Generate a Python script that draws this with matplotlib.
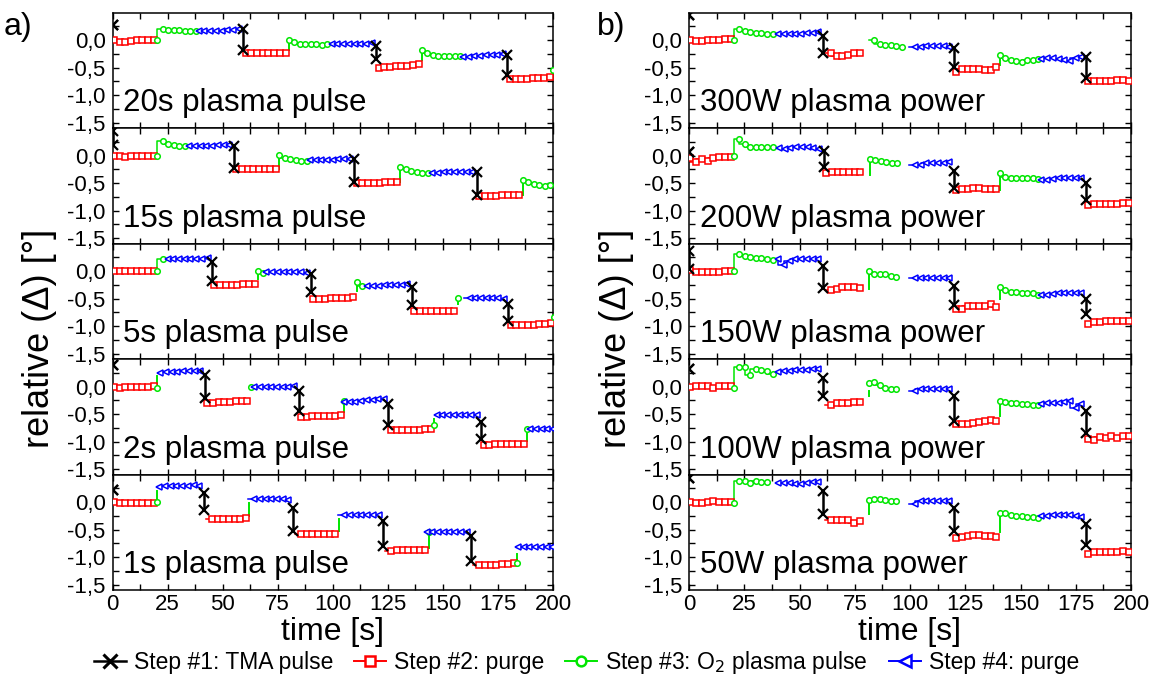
import numpy as np
import matplotlib
matplotlib.use("Agg")
import matplotlib.pyplot as plt
from matplotlib.lines import Line2D
from matplotlib.ticker import FixedLocator, MultipleLocator, FuncFormatter
from matplotlib import font_manager

FONT = "Liberation Sans"
_installed = {f.name for f in font_manager.fontManager.ttflist}
NARROW = "Liberation Sans Narrow" if "Liberation Sans Narrow" in _installed else FONT
plt.rcParams["font.family"] = FONT

C_TMA = "#000000"
C_PURGE_A = "#ff0000"
C_PLASMA = "#00e600"
C_PURGE_B = "#0000ff"

# ---------------------------------------------------------------- data
# Each panel: TMA pulse times [s] and (start, end) of the jump in relative Delta,
# then per ALD cycle the sampled values of purge #1, the plasma rise line,
# the plasma pulse samples and purge #2 (None = no sample recorded).

# a) plasma pulse length series
P20_TMA_T = [0.0, 59.3, 119.7, 179.3]
P20_TMA_Y = [(0.27, 0.27), (0.21, -0.17), (-0.10, -0.35), (-0.26, -0.64)]
P20_PURGE_A = [[0.01, -0.03, -0.03, -0.02, 0.0, 0.0, 0.0, 0.01],
               [-0.23, -0.23, -0.23, -0.23, -0.23, -0.23, -0.23, -0.23],
               [-0.50, -0.48, -0.48, -0.47, -0.47, -0.46, -0.45, -0.44],
               [-0.71, -0.70, -0.70, -0.70, -0.68, -0.68, -0.68, -0.67]]
P20_RISE = [None, (-0.17, 0.01), (-0.36, -0.17), (-0.64, -0.55)]
P20_PLASMA = [[0.01, 0.21, 0.19, 0.19, 0.18, 0.17, 0.16, 0.16],
              [0.01, -0.04, -0.06, -0.07, -0.07, -0.07, -0.08, -0.06],
              [-0.17, -0.23, -0.26, -0.28, -0.28, -0.28, -0.28, -0.29],
              [-0.55]]
P20_PURGE_B = [[0.16, 0.16, 0.16, 0.17, 0.17, 0.18, 0.19, 0.21],
               [-0.06, -0.07, -0.07, -0.06, -0.06, -0.07, -0.07, -0.05],
               [-0.30, -0.30, -0.28, -0.28, -0.27, -0.27, -0.26, -0.25]]

P15_TMA_T = [0.0, 55.0, 109.8, 165.4]
P15_TMA_Y = [(0.45, 0.20), (0.18, -0.23), (-0.06, -0.48), (-0.30, -0.72)]
P15_PURGE_A = [[-0.01, -0.01, -0.02, -0.01, -0.01, -0.01, -0.01, -0.01],
               [-0.25, -0.25, -0.25, -0.25, -0.25, -0.25, -0.25, -0.25],
               [-0.50, -0.50, -0.50, -0.49, -0.49, -0.48, -0.48, -0.47],
               [-0.74, -0.74, -0.73, -0.73, -0.72, -0.72, -0.72, -0.72]]
P15_RISE = [None, (-0.24, 0.02), (-0.48, -0.21), (-0.71, -0.45)]
P15_PLASMA = [[0.0, 0.26, 0.21, 0.20, 0.18, 0.18],
              [0.02, -0.04, -0.06, -0.08, -0.09, -0.09],
              [-0.21, -0.25, -0.28, -0.30, -0.31, -0.31],
              [-0.45, -0.48, -0.52, -0.54, -0.55, -0.54]]
P15_PURGE_B = [[0.17, 0.17, 0.18, 0.18, 0.18, 0.19, 0.19, 0.19],
               [-0.08, -0.08, -0.08, -0.07, -0.07, -0.06, -0.06, -0.06],
               [-0.31, -0.31, -0.30, -0.30, -0.30, -0.30, -0.29, -0.29]]

P5_TMA_T = [0.0, 45.2, 90.1, 135.9, 179.7]
P5_TMA_Y = [None, (0.16, -0.17), (-0.05, -0.38), (-0.29, -0.62), (-0.59, -0.90)]
P5_PURGE_A = [[0.01, 0.0, 0.0, 0.01, 0.0, 0.0, 0.01, 0.01],
              [-0.26, -0.26, -0.26, -0.25, -0.25, -0.24, -0.24, -0.23],
              [-0.50, -0.50, -0.50, -0.49, -0.49, -0.49, -0.49, -0.47],
              [-0.73, -0.73, -0.73, -0.73, -0.73, -0.72, -0.72, -0.72],
              [-0.98, -0.98, -0.98, -0.98, -0.97, -0.96, -0.96, -0.95]]
P5_RISE = [None, (-0.14, 0.01), (-0.36, -0.20), (-0.60, -0.49), (-0.95, -0.83)]
P5_PLASMA = [[0.0, 0.23], [0.01, -0.03], [-0.20, -0.27], [-0.49], [-0.83]]
P5_PURGE_B = [[0.22, 0.22, 0.22, 0.22, 0.22, 0.22, 0.23, 0.24],
              [-0.01, -0.01, -0.01, -0.01, -0.01, -0.01, -0.02, -0.03],
              [-0.27, -0.27, -0.27, -0.26, -0.26, -0.25, -0.25, -0.24],
              [None, -0.49, -0.49, -0.49, -0.49, -0.49, -0.49, -0.50]]

P2_TMA_T = [0.0, 41.9, 84.5, 125.3, 167.4]
P2_TMA_Y = [(0.40, 0.40), (0.22, -0.20), (-0.08, -0.44), (-0.32, -0.70), (-0.64, -0.95)]
P2_PURGE_A = [[0.0, -0.02, 0.0, 0.0, 0.0, 0.0, 0.0, 0.01],
              [-0.29, -0.29, -0.28, -0.28, -0.28, -0.26, -0.26, -0.26],
              [-0.55, -0.55, -0.54, -0.54, -0.53, -0.53, -0.53, -0.52],
              [-0.79, -0.79, -0.79, -0.78, -0.78, -0.78, -0.77, -0.77],
              [-1.06, -1.06, -1.05, -1.05, -1.05, -1.05, -1.05, -1.05]]
P2_RISE = [(-0.02, 0.20), None, (-0.46, -0.26), (-0.69, -0.58), (-0.98, -0.77)]
P2_PLASMA = [[-0.02], [0.0], [-0.26], [-0.69], [-0.77]]
P2_PURGE_B = [[0.25, 0.27, 0.27, 0.27, 0.28, 0.28, 0.28, 0.28],
              [0.0, 0.0, 0.0, 0.0, 0.0, 0.0, 0.0, 0.01],
              [-0.27, -0.27, -0.27, -0.26, -0.25, -0.24, -0.23, -0.22],
              [-0.52, -0.52, -0.51, -0.51, -0.51, -0.51, -0.51, -0.51],
              [-0.77, -0.77, -0.77, -0.77, -0.77, -0.77, -0.77, -0.77]]

P1_TMA_T = [0.0, 41.4, 81.9, 122.8, 162.8]
P1_TMA_Y = [(0.23, 0.23), (0.17, -0.15), (-0.10, -0.52), (-0.34, -0.80), (-0.61, -1.07)]
P1_PURGE_A = [[0.0, -0.02, -0.02, -0.02, -0.02, -0.02, -0.02, -0.01],
              [None, -0.31, -0.31, -0.31, -0.31, -0.30, -0.30, -0.28],
              [None, -0.58, -0.57, -0.57, -0.57, -0.57, -0.57, -0.57],
              [None, -0.89, -0.87, -0.87, -0.87, -0.87, -0.87, -0.86],
              [None, -1.14, -1.14, -1.14, -1.14, -1.13, -1.13, -1.11]]
P1_RISE = [(0.0, 0.20), (-0.25, -0.01), (-0.52, -0.30), (-0.84, -0.54), (-1.11, -0.95)]
P1_PLASMA = [[0.0], [], [], [-0.54], [-1.11]]
P1_PURGE_B = [[0.28, 0.29, 0.29, 0.30, 0.30, 0.30, 0.31, 0.29],
              [None, 0.05, 0.05, 0.05, 0.05, 0.05, 0.05, 0.04],
              [None, -0.24, -0.24, -0.24, -0.24, -0.24, -0.24, -0.24],
              [-0.54, -0.54, -0.54, -0.54, -0.54, -0.54, -0.54, -0.54],
              [-0.81, -0.81, -0.81, -0.81, -0.81, -0.81, -0.81, -0.81]]

# b) plasma power series (20 s plasma pulse)
W300_TMA_T = [0.0, 60.5, 119.8, 179.6]
W300_TMA_Y = [(0.45, 0.45), (0.08, -0.23), (-0.15, -0.49), (-0.30, -0.69)]
W300_PURGE_A = [[0.0, -0.01, -0.01, 0.01, 0.01, 0.01, 0.03, 0.03],
                [None, -0.24, -0.29, -0.29, -0.26, -0.24, -0.23, None],
                [-0.57, -0.53, -0.53, -0.53, -0.53, -0.54, -0.54, -0.49],
                [-0.75, -0.75, -0.75, -0.75, -0.75, -0.73, -0.73, -0.75]]
W300_RISE = [None, None, (-0.45, -0.26), None]
W300_PLASMA = [[0.0, 0.20, 0.17, 0.15, 0.13, 0.13, 0.12, 0.12],
               [None, 0.01, -0.06, -0.08, -0.09, -0.11, -0.12],
               [-0.26, -0.33, -0.36, -0.38, -0.39, -0.36, -0.36, -0.35]]
W300_PURGE_B = [[0.11, 0.11, 0.12, 0.12, 0.12, 0.13, 0.13, 0.15],
                [None, -0.12, -0.12, -0.11, -0.11, -0.11, -0.11, -0.12],
                [-0.35, -0.33, -0.33, -0.35, -0.36, -0.37, -0.33, -0.30]]

W200_TMA_T = [0.0, 60.9, 119.8, 179.6]
W200_TMA_Y = [(0.06, 0.06), (0.08, -0.20), (-0.28, -0.59), (-0.50, -0.80)]
W200_PURGE_A = [[-0.05, -0.11, -0.06, -0.09, -0.04, -0.02, -0.02, -0.02],
                [-0.32, -0.29, -0.29, -0.29, -0.29, -0.29, -0.29, None],
                [-0.62, -0.61, -0.61, -0.59, -0.59, -0.60, -0.60, -0.60],
                [-0.89, -0.88, -0.88, -0.88, -0.88, -0.88, -0.86, -0.86]]
W200_RISE = [None, (-0.35, -0.06), (-0.62, -0.32), None]
W200_PLASMA = [[0.0, 0.31, 0.22, 0.16, 0.16, 0.16, 0.16, 0.16],
               [-0.06, -0.08, -0.09, -0.11, -0.13, -0.13],
               [-0.32, -0.38, -0.40, -0.40, -0.40, -0.40, -0.40, -0.42]]
W200_PURGE_B = [[0.14, 0.13, 0.14, 0.16, 0.16, 0.16, 0.14, 0.12],
                [None, -0.17, -0.16, -0.14, -0.14, -0.13, -0.13, -0.11],
                [-0.44, -0.44, -0.42, -0.41, -0.41, -0.41, -0.41, -0.40]]

W150_TMA_T = [0.0, 60.5, 119.8, 179.6]
W150_TMA_Y = [(0.37, 0.04), (0.09, -0.31), (-0.27, -0.62), (-0.51, -0.77)]
W150_PURGE_A = [[0.03, -0.02, -0.02, -0.01, -0.01, -0.01, 0.0, 0.0],
                [None, -0.35, -0.32, -0.29, -0.29, -0.29, -0.31, None],
                [-0.68, -0.68, -0.63, -0.63, -0.63, -0.63, -0.60, -0.65],
                [-0.96, -0.93, -0.93, -0.90, -0.90, -0.90, -0.90, -0.90]]
W150_RISE = [None, (-0.32, 0.01), (-0.51, -0.29), None]
W150_PLASMA = [[0.0, 0.31, 0.27, 0.25, 0.24, 0.24, 0.22, 0.21],
               [0.01, -0.05, -0.05, -0.05, -0.09, -0.11],
               [-0.29, -0.34, -0.37, -0.38, -0.39, -0.39, -0.40, -0.43]]
W150_PURGE_B = [[0.22, 0.11, 0.19, 0.22, 0.22, 0.23, 0.23, 0.23],
                [None, -0.12, -0.13, -0.13, -0.13, -0.13, -0.13, -0.12],
                [-0.44, -0.43, -0.41, -0.40, -0.40, -0.40, -0.40, -0.40]]

W100_TMA_T = [0.0, 60.5, 119.8, 179.6]
W100_TMA_Y = [(0.32, 0.32), (0.16, -0.16), (-0.17, -0.63), (-0.44, -0.84)]
W100_PURGE_A = [[0.0, 0.01, 0.01, 0.02, -0.02, 0.01, 0.02, 0.01],
                [None, -0.34, -0.30, -0.30, -0.30, -0.28, -0.28, None],
                [-0.68, -0.68, -0.68, -0.66, -0.65, -0.62, -0.60, -0.62],
                [-0.95, -0.96, -0.92, -0.93, -0.90, -0.93, -0.89, -0.89]]
W100_RISE = [None, (-0.17, -0.08), (-0.53, -0.26), None]
W100_PLASMA = [[-0.02, 0.36, 0.36, 0.22, 0.32, 0.30, 0.28, 0.24],
               [0.06, 0.08, 0.04, -0.02, -0.04, -0.04],
               [-0.26, -0.28, -0.29, -0.29, -0.31, -0.32, -0.33, -0.33]]
W100_PURGE_B = [[0.26, 0.28, 0.29, 0.30, 0.30, 0.31, 0.32, 0.32],
                [None, -0.08, -0.04, -0.04, -0.04, -0.04, -0.04, -0.04],
                [-0.32, -0.30, -0.29, -0.29, -0.28, -0.26, -0.38, -0.32]]

W50_TMA_T = [0.0, 60.5, 119.8, 179.6]
W50_TMA_Y = [(0.44, 0.44), (0.20, -0.22), (-0.10, -0.52), (-0.39, -0.78)]
W50_PURGE_A = [[0.0, -0.01, -0.01, 0.0, 0.02, 0.0, 0.0, 0.0],
               [None, -0.32, -0.32, -0.32, -0.32, -0.38, -0.34, None],
               [-0.65, -0.63, -0.61, -0.60, -0.60, -0.61, -0.61, -0.63],
               [-0.95, -0.90, -0.90, -0.90, -0.90, -0.90, -0.89, -0.90]]
W50_RISE = [None, (-0.22, 0.04), (-0.54, -0.20), None]
W50_PLASMA = [[-0.01, 0.39, 0.38, 0.35, 0.39, 0.37, 0.36],
              [0.04, 0.06, 0.05, 0.04, 0.03, 0.03],
              [-0.20, -0.20, -0.24, -0.25, -0.25, -0.26, -0.27, -0.28]]
W50_PURGE_B = [[0.35, 0.35, 0.35, 0.33, 0.33, 0.35, 0.36, 0.37],
               [None, -0.03, 0.02, 0.02, 0.02, 0.02, 0.02, 0.02],
               [-0.25, -0.25, -0.24, -0.24, -0.24, -0.24, -0.25, -0.27]]

LEFT_LABELS = ["20s plasma pulse", "15s plasma pulse", "5s plasma pulse",
               "2s plasma pulse", "1s plasma pulse"]
LEFT_PULSE = [20, 15, 5, 2, 1]
RIGHT_LABELS = ["300W plasma power", "200W plasma power", "150W plasma power",
                "100W plasma power", "50W plasma power"]
RIGHT_PULSE = [20, 20, 20, 20, 20]

X_TICKS = [0, 25, 50, 75, 100, 125, 150, 175, 200]
Y_TICKS = [-1.5, -1.0, -0.5, 0.0]
LEGEND_LABELS = ["Step #1: TMA pulse", "Step #2: purge",
                 "Step #3: O$_2$ plasma pulse", "Step #4: purge"]

LEFT_DATA = [
    (P20_TMA_T, P20_TMA_Y, P20_PURGE_A, P20_RISE, P20_PLASMA, P20_PURGE_B),
    (P15_TMA_T, P15_TMA_Y, P15_PURGE_A, P15_RISE, P15_PLASMA, P15_PURGE_B),
    (P5_TMA_T, P5_TMA_Y, P5_PURGE_A, P5_RISE, P5_PLASMA, P5_PURGE_B),
    (P2_TMA_T, P2_TMA_Y, P2_PURGE_A, P2_RISE, P2_PLASMA, P2_PURGE_B),
    (P1_TMA_T, P1_TMA_Y, P1_PURGE_A, P1_RISE, P1_PLASMA, P1_PURGE_B),
]
RIGHT_DATA = [
    (W300_TMA_T, W300_TMA_Y, W300_PURGE_A, W300_RISE, W300_PLASMA, W300_PURGE_B),
    (W200_TMA_T, W200_TMA_Y, W200_PURGE_A, W200_RISE, W200_PLASMA, W200_PURGE_B),
    (W150_TMA_T, W150_TMA_Y, W150_PURGE_A, W150_RISE, W150_PLASMA, W150_PURGE_B),
    (W100_TMA_T, W100_TMA_Y, W100_PURGE_A, W100_RISE, W100_PLASMA, W100_PURGE_B),
    (W50_TMA_T, W50_TMA_Y, W50_PURGE_A, W50_RISE, W50_PLASMA, W50_PURGE_B),
]

# sampling of the ellipsometer within each step [s]
DT_PURGE = 2.6
DT_PLASMA = 2.5

MARK = dict(s=dict(marker="s", ms=3.8), o=dict(marker="o", ms=4.0),
            l=dict(marker="<", ms=5.0))


def as_array(vals):
    return np.array([np.nan if v is None else v for v in vals], dtype=float)


def draw_step(ax, t, vals, color, mk):
    y = as_array(vals)
    if len(y) == 0:
        return
    ax.plot(t, y, color=color, lw=1.1, drawstyle="steps-pre", zorder=2)
    ax.plot(t, y, ls="none", color=color, mfc="white", mec=color, mew=1.1,
            zorder=3, **MARK[mk])


def draw_panel(ax, pulse, tma_t, tma_y, purge_a, rise, plasma, purge_b):
    starts = [0.0] + [t + 0.5 for t in tma_t[1:]]
    for k, s in enumerate(starts):
        end = tma_t[k + 1] if k + 1 < len(tma_t) else s + 40 + pulse
        if k < len(purge_a):
            draw_step(ax, s + 0.6 + DT_PURGE * np.arange(len(purge_a[k])),
                      purge_a[k], C_PURGE_A, "s")
        if k < len(rise) and rise[k] is not None:
            ax.plot([s + 20.3, s + 20.3], rise[k], color=C_PLASMA, lw=1.4, zorder=2)
        if k < len(plasma):
            draw_step(ax, s + 20.3 + DT_PLASMA * np.arange(len(plasma[k])),
                      plasma[k], C_PLASMA, "o")
        if k < len(purge_b):
            n = len(purge_b[k])
            draw_step(ax, end - 2.0 - DT_PURGE * np.arange(n)[::-1],
                      purge_b[k], C_PURGE_B, "l")
    for t, ys in zip(tma_t, tma_y):
        if ys is None:
            continue
        ax.plot([t, t], ys, color=C_TMA, lw=1.8, marker="x", ms=6.5, mew=1.6,
                zorder=4)


def comma(v, _pos):
    s = f"{v:.1f}".replace(".", ",")
    return "0,0" if s == "-0,0" else s


W, H = 1154, 683
fig = plt.figure(figsize=(W / 100, H / 100), dpi=100)

TOP_PX = 12.7
PANEL_PX = 115.5
COLS = [(112.5, 440.5), (689.0, 442.0)]

for col, (x0, wpx) in enumerate(COLS):
    labels = LEFT_LABELS if col == 0 else RIGHT_LABELS
    pulses = LEFT_PULSE if col == 0 else RIGHT_PULSE
    datas = LEFT_DATA if col == 0 else RIGHT_DATA
    for i in range(5):
        top = TOP_PX + PANEL_PX * i
        ax = fig.add_axes([x0 / W, 1 - (top + PANEL_PX) / H, wpx / W, PANEL_PX / H])
        draw_panel(ax, pulses[i], *datas[i])
        ax.set_xlim(0, 200)
        ax.set_ylim(-1.6, 0.5)
        ax.xaxis.set_major_locator(FixedLocator(X_TICKS))
        ax.xaxis.set_minor_locator(MultipleLocator(12.5))
        ax.yaxis.set_major_locator(FixedLocator(Y_TICKS))
        ax.yaxis.set_minor_locator(FixedLocator([-1.25, -0.75, -0.25, 0.25]))
        ax.yaxis.set_major_formatter(FuncFormatter(comma))
        ax.tick_params(which="both", direction="in", top=True, right=True,
                       length=4, width=1.0, labelsize=16, pad=5)
        ax.tick_params(axis="x", labelbottom=(i == 4), pad=3)
        for sp in ax.spines.values():
            sp.set_linewidth(1.1)
        ax.text(0.024, 0.145, labels[i], transform=ax.transAxes,
                fontsize=22.5, va="baseline", ha="left")
    fig.text((x0 + wpx / 2) / W, 1 - 632 / H, "time [s]", ha="center",
             va="center", fontsize=23)
    fig.text((x0 - 73) / W, 1 - 338 / H, "relative (Δ) [°]", rotation=90,
             ha="center", va="center", fontsize=26)

fig.text(4 / W, 1 - 27 / H, "a)", fontsize=23, va="center", ha="left")
fig.text(597 / W, 1 - 27 / H, "b)", fontsize=23, va="center", ha="left")

handles = [
    Line2D([], [], color=C_TMA, lw=1.8, marker="x", ms=10, mew=2.2),
    Line2D([], [], color=C_PURGE_A, lw=1.4, marker="s", ms=7, mfc="white", mew=1.8),
    Line2D([], [], color=C_PLASMA, lw=1.4, marker="o", ms=7, mfc="white", mew=1.8),
    Line2D([], [], color=C_PURGE_B, lw=1.4, marker="<", ms=9, mfc="white", mew=1.8),
]
fig.legend(handles, LEGEND_LABELS, loc="center", bbox_to_anchor=(586.5 / W, 1 - 663 / H),
           ncol=4, frameon=False, handlelength=1.4, handletextpad=0.35,
           columnspacing=0.9, prop={"family": NARROW, "size": 16.5})

fig.savefig("out.png", dpi=100)
